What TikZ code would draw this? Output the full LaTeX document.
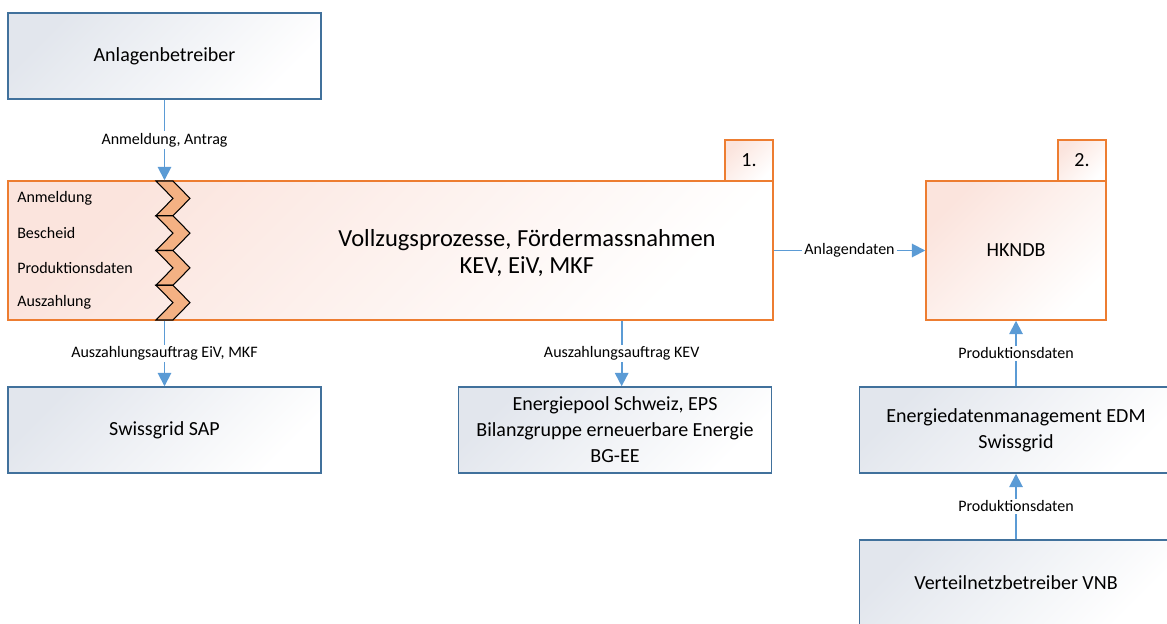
\documentclass[tikz,border=0pt]{standalone}
\usepackage{fontspec}
\setmainfont{Carlito}
\usepackage{tikz}
\usetikzlibrary{arrows.meta,shapes,positioning}

\definecolor{blueline}{RGB}{65,113,156}
\definecolor{bluefill}{RGB}{226,230,237}
\definecolor{orangefill}{RGB}{251,228,221}
\definecolor{orangeline}{RGB}{237,125,49}
\definecolor{chevronfill}{RGB}{244,177,131}
\definecolor{flowblue}{RGB}{91,155,213}

\begin{document}
\begin{tikzpicture}[x=0.75pt, y=-0.75pt,
    box/.style={line width=1.1pt, inner sep=0pt, align=center, font=\fontsize{15}{19.5}\selectfont},
    bluebox/.style={box, draw=blueline, top color=bluefill, bottom color=white, shading angle=45, minimum width=235pt, minimum height=64.5pt},
    orangebox/.style={box, draw=orangeline, top color=orangefill, bottom color=white, shading angle=45},
    tabbox/.style={orangebox, minimum width=36pt, minimum height=30.75pt},
    chevron/.style={draw=black, line width=0.8pt, fill=chevronfill, line join=miter},
    flow/.style={draw=flowblue, line width=1.4pt, -{Triangle[length=10pt, width=10pt]}},
    flowlabel/.style={midway, fill=white, inner sep=1.5pt, font=\fontsize{12}{14}\selectfont},
    steplabel/.style={anchor=west, inner sep=0pt, font=\fontsize{12}{14}\selectfont}]
    \useasboundingbox (0,0) rectangle (1167,624);

    % boxes
    \node[bluebox] (betreiber) at (164.5,56) {Anlagenbetreiber};
    \node[tabbox] (tab1) at (749,160.5) {1.};
    \node[orangebox, minimum width=573.75pt, minimum height=104.25pt] (vollzug) at (390.5,250.5) {};
    \node[font=\fontsize{18.4}{20.5}\selectfont, align=center] (vollzugtext) at (527,253) {Vollzugsprozesse, Fördermassnahmen\\KEV, EiV, MKF};
    \node[tabbox] (tab2) at (1082,160.5) {2.};
    \node[orangebox, minimum width=135pt, minimum height=104.25pt] (hkndb) at (1016,250.5) {HKNDB};
    \node[bluebox] (sap) at (164.5,430) {Swissgrid SAP};
    \node[bluebox] (eps) at (615,430) {Energiepool Schweiz, EPS\\Bilanzgruppe erneuerbare Energie\\BG-EE};
    \node[bluebox] (edm) at (1016,430) {Energiedatenmanagement EDM\\Swissgrid};
    \node[bluebox] (vnb) at (1016,583) {Verteilnetzbetreiber VNB};

    % process steps
    \foreach \y in {181,215.75,250.5,285.25}
      \draw[chevron] (156,\y) -- (173,\y) -- (190,{\y+17.375}) -- (173,{\y+34.75}) -- (156,{\y+34.75}) -- (173,{\y+17.375}) -- cycle;
    \foreach \txt [count=\i] in {Anmeldung, Bescheid, Produktionsdaten, Auszahlung}
      \node[steplabel] (step\i) at (17,{181+34.75*\i-17.375}) {\txt};

    % flows
    \draw[flow] (betreiber.south) -- (betreiber.south |- vollzug.north) node[flowlabel] {Anmeldung, Antrag};
    \draw[flow] (sap.north |- vollzug.south) -- (sap.north) node[flowlabel] {Auszahlungsauftrag EiV, MKF};
    \draw[flow] ([xshift=5pt]eps.north |- vollzug.south) -- ([xshift=5pt]eps.north) node[flowlabel] {Auszahlungsauftrag KEV};
    \draw[flow] (vollzug.east |- hkndb.west) -- (hkndb.west) node[flowlabel] {Anlagendaten};
    \draw[flow] (edm.north) -- (hkndb.south) node[flowlabel] {Produktionsdaten};
    \draw[flow] (vnb.north) -- (edm.south) node[flowlabel] {Produktionsdaten};
  \end{tikzpicture}
\end{document}
